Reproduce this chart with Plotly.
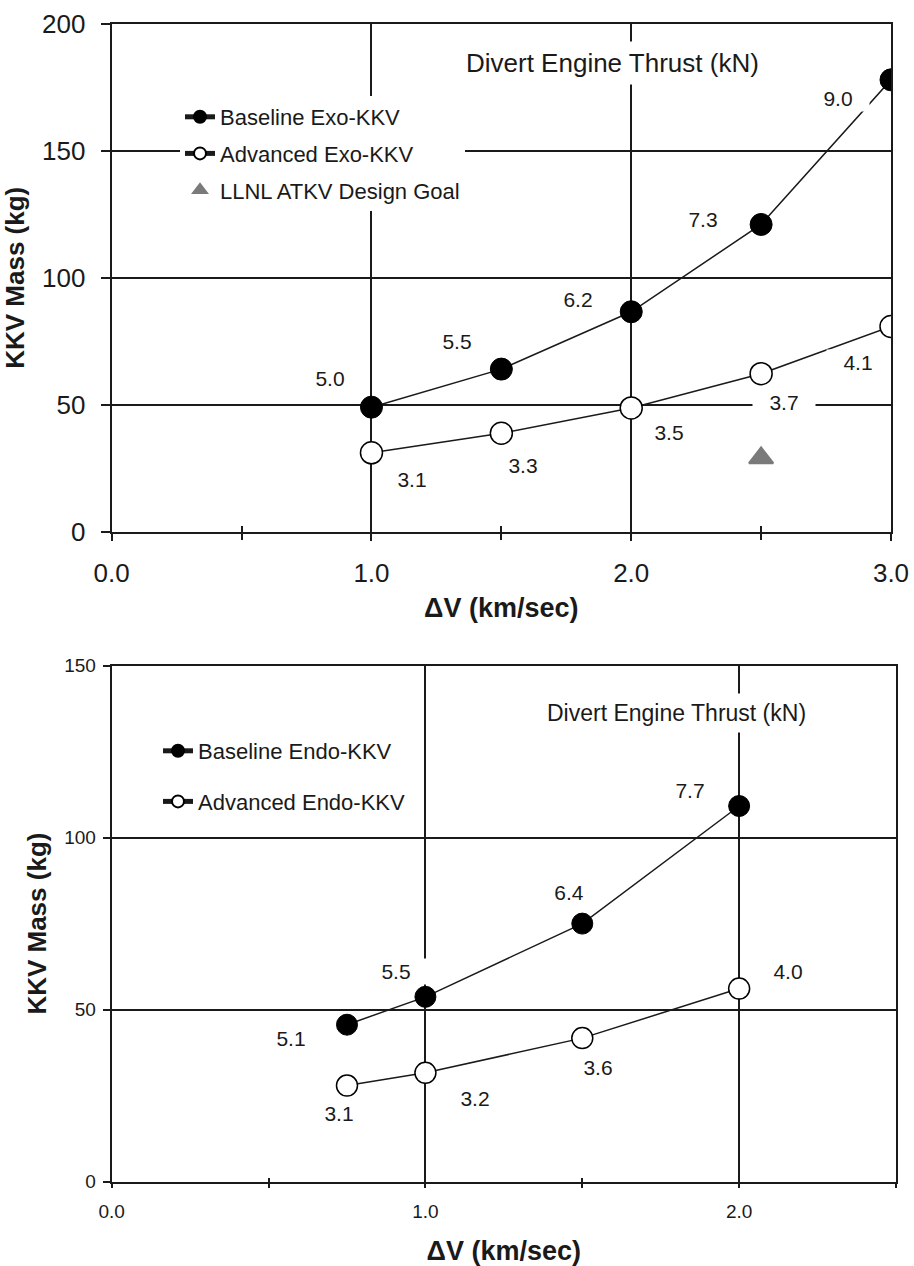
import plotly.graph_objects as go

# ---- Exo-atmospheric KKV (upper panel) ----
exo_dv = [1.0, 1.5, 2.0, 2.5, 3.0]
exo_base_mass = [49, 64, 86.6, 121, 178]
exo_adv_mass = [31, 38.7, 48.7, 62.2, 80.8]
exo_base_thrust = ["5.0", "5.5", "6.2", "7.3", "9.0"]
exo_adv_thrust = ["3.1", "3.3", "3.5", "3.7", "4.1"]
llnl_dv = [2.5]
llnl_mass = [29]

# ---- Endo-atmospheric KKV (lower panel) ----
endo_dv = [0.75, 1.0, 1.5, 2.0]
endo_base_mass = [45.6, 53.7, 75.0, 109.2]
endo_adv_mass = [27.9, 31.6, 41.7, 56.1]
endo_base_thrust = ["5.1", "5.5", "6.4", "7.7"]
endo_adv_thrust = ["3.1", "3.2", "3.6", "4.0"]

exo_xticks = [0, 1, 2, 3]
endo_xticks = [0, 1, 2]

# label offsets (pixels) from each point
exo_base_off = [(-41, 29), (-44, 28), (-53, 12), (-58, 5), (-53, -19)]
exo_adv_off = [(41, -27), (22, -32), (38, -25), (23, -29), (-33, -36)]
endo_base_off = [(-56, -14), (-29, 25), (-13, 31), (-49, 16)]
endo_adv_off = [(-8, -28), (50, -26), (16, -29), (49, 17)]

FONT = "Liberation Sans, Arial, sans-serif"
INK = "#1a1a1a"
W, H = 914, 1266


def px_x(p):
    return p / W


def px_y(p):
    return 1 - p / H


fig = go.Figure()

# upper panel traces
fig.add_trace(go.Scatter(
    x=exo_dv, y=exo_base_mass, mode="lines+markers", name="Baseline Exo-KKV",
    xaxis="x", yaxis="y", legend="legend", legendgroup="a",
    line=dict(color=INK, width=1.5),
    marker=dict(symbol="circle", size=22, color="black", line=dict(color="black", width=1)),
))
fig.add_trace(go.Scatter(
    x=exo_dv, y=exo_adv_mass, mode="lines+markers", name="Advanced Exo-KKV",
    xaxis="x", yaxis="y", legend="legend", legendgroup="b",
    line=dict(color=INK, width=1.5),
    marker=dict(symbol="circle", size=22, color="white", line=dict(color="black", width=1.5)),
))
fig.add_trace(go.Scatter(
    x=llnl_dv, y=llnl_mass, mode="markers", name="LLNL ATKV Design Goal",
    xaxis="x", yaxis="y", legend="legend", legendgroup="c",
    marker=dict(symbol="triangle-up", size=21, color="#7a7a7a", line=dict(color="#7a7a7a", width=2)),
))

# lower panel traces
fig.add_trace(go.Scatter(
    x=endo_dv, y=endo_base_mass, mode="lines+markers", name="Baseline Endo-KKV",
    xaxis="x2", yaxis="y2", legend="legend2", legendgroup="d",
    line=dict(color=INK, width=1.5),
    marker=dict(symbol="circle", size=21, color="black", line=dict(color="black", width=1)),
))
fig.add_trace(go.Scatter(
    x=endo_dv, y=endo_adv_mass, mode="lines+markers", name="Advanced Endo-KKV",
    xaxis="x2", yaxis="y2", legend="legend2", legendgroup="e",
    line=dict(color=INK, width=1.5),
    marker=dict(symbol="circle", size=21, color="white", line=dict(color="black", width=1.5)),
))

# empty traces so the inside-tick overlay axes get their own subplots
fig.add_trace(go.Scatter(x=[], y=[], xaxis="x3", yaxis="y", showlegend=False, hoverinfo="skip"))
fig.add_trace(go.Scatter(x=[], y=[], xaxis="x4", yaxis="y2", showlegend=False, hoverinfo="skip"))

annotations = []


def add_labels(xs, ys, texts, offs, xref, yref, size):
    for xv, yv, t, (dx, dy) in zip(xs, ys, texts, offs):
        annotations.append(dict(
            x=xv, y=yv, xref=xref, yref=yref, text=t, showarrow=False,
            xanchor="center", yanchor="middle",
            xshift=dx, yshift=dy, bgcolor="white", width=60, borderpad=1,
            font=dict(family=FONT, size=size, color=INK),
        ))


add_labels(exo_dv, exo_base_mass, exo_base_thrust, exo_base_off, "x", "y", 21)
add_labels(exo_dv, exo_adv_mass, exo_adv_thrust, exo_adv_off, "x", "y", 21)
add_labels(endo_dv, endo_base_mass, endo_base_thrust, endo_base_off, "x2", "y2", 21)
add_labels(endo_dv, endo_adv_mass, endo_adv_thrust, endo_adv_off, "x2", "y2", 21)

annotations.append(dict(
    x=0.642, y=0.923, xref="x domain", yref="y domain", text="Divert Engine Thrust (kN)",
    xanchor="center", yanchor="middle",
    showarrow=False, bgcolor="white", borderpad=6,
    font=dict(family=FONT, size=26, color=INK),
))
annotations.append(dict(
    x=0.720, y=0.908, xref="x2 domain", yref="y2 domain", text="Divert Engine Thrust (kN)",
    xanchor="center", yanchor="middle",
    showarrow=False, bgcolor="white", borderpad=6,
    font=dict(family=FONT, size=23, color=INK),
))

top_x = [px_x(111.7), px_x(891)]
top_y = [px_y(531.5), px_y(24)]
bot_x = [px_x(111.7), px_x(896)]
bot_y = [px_y(1181.5), px_y(665.7)]

common_axis = dict(
    showline=True, mirror=True, linecolor=INK, linewidth=2,
    showgrid=True, gridcolor=INK, gridwidth=1.5, zeroline=False,
    tickcolor=INK, tickwidth=1.5, automargin=False,
)

fig.update_layout(
    width=W, height=H,
    margin=dict(l=0, r=0, t=0, b=0),
    paper_bgcolor="white", plot_bgcolor="white",
    font=dict(family=FONT, color=INK),
    annotations=annotations,
    xaxis=dict(
        **common_axis, domain=top_x, anchor="y", range=[0, 3],
        tickvals=exo_xticks, tickformat=".1f", ticks="outside", ticklen=7,
        ticklabelstandoff=10,
        minor=dict(dtick=0.5, ticks="outside", ticklen=6, tickcolor=INK, tickwidth=1.5, showgrid=False),
        tickfont=dict(size=26, color=INK),
        title=dict(text="<b>ΔV (km/sec)</b>", font=dict(size=27, color=INK), standoff=11),
    ),
    yaxis=dict(
        **common_axis, domain=top_y, anchor="x", range=[0, 200], dtick=50,
        ticks="outside", ticklen=9, ticklabelstandoff=10,
        tickfont=dict(size=26, color=INK),
        title=dict(text="<b>KKV Mass (kg)</b>", font=dict(size=26, color=INK), standoff=12),
    ),
    xaxis3=dict(
        overlaying="x", anchor="y", range=[0, 3], dtick=0.5, domain=top_x,
        ticks="inside", ticklen=6, tickcolor=INK, tickwidth=1.5,
        showticklabels=False, showgrid=False, showline=False, zeroline=False,
    ),
    xaxis2=dict(
        **common_axis, domain=bot_x, anchor="y2", range=[0, 2.5],
        tickvals=endo_xticks, tickformat=".1f", ticks="outside", ticklen=4,
        ticklabelstandoff=8,
        minor=dict(dtick=0.5, ticks="outside", ticklen=4, tickcolor=INK, tickwidth=1.5, showgrid=False),
        tickfont=dict(size=19, color=INK),
        title=dict(text="<b>ΔV (km/sec)</b>", font=dict(size=27, color=INK), standoff=28),
    ),
    yaxis2=dict(
        **common_axis, domain=bot_y, anchor="x2", range=[0, 150], dtick=50,
        ticks="outside", ticklen=7, ticklabelstandoff=3,
        tickfont=dict(size=19, color=INK),
        title=dict(text="<b>KKV Mass (kg)</b>", font=dict(size=26, color=INK), standoff=10),
    ),
    xaxis4=dict(
        overlaying="x2", anchor="y2", range=[0, 2.5], dtick=0.5, domain=bot_x,
        ticks="inside", ticklen=4, tickcolor=INK, tickwidth=1.5,
        showticklabels=False, showgrid=False, showline=False, zeroline=False,
    ),
    legend=dict(
        x=px_x(180), y=px_y(96), xanchor="left", yanchor="top",
        bgcolor="white", borderwidth=0, itemsizing="constant",
        tracegroupgap=5, font=dict(size=22, color=INK, family=FONT),
    ),
    legend2=dict(
        x=px_x(158), y=px_y(730), xanchor="left", yanchor="top",
        bgcolor="white", borderwidth=0, itemsizing="constant",
        tracegroupgap=19, font=dict(size=22, color=INK, family=FONT),
    ),
)

fig.write_html("out.html")
